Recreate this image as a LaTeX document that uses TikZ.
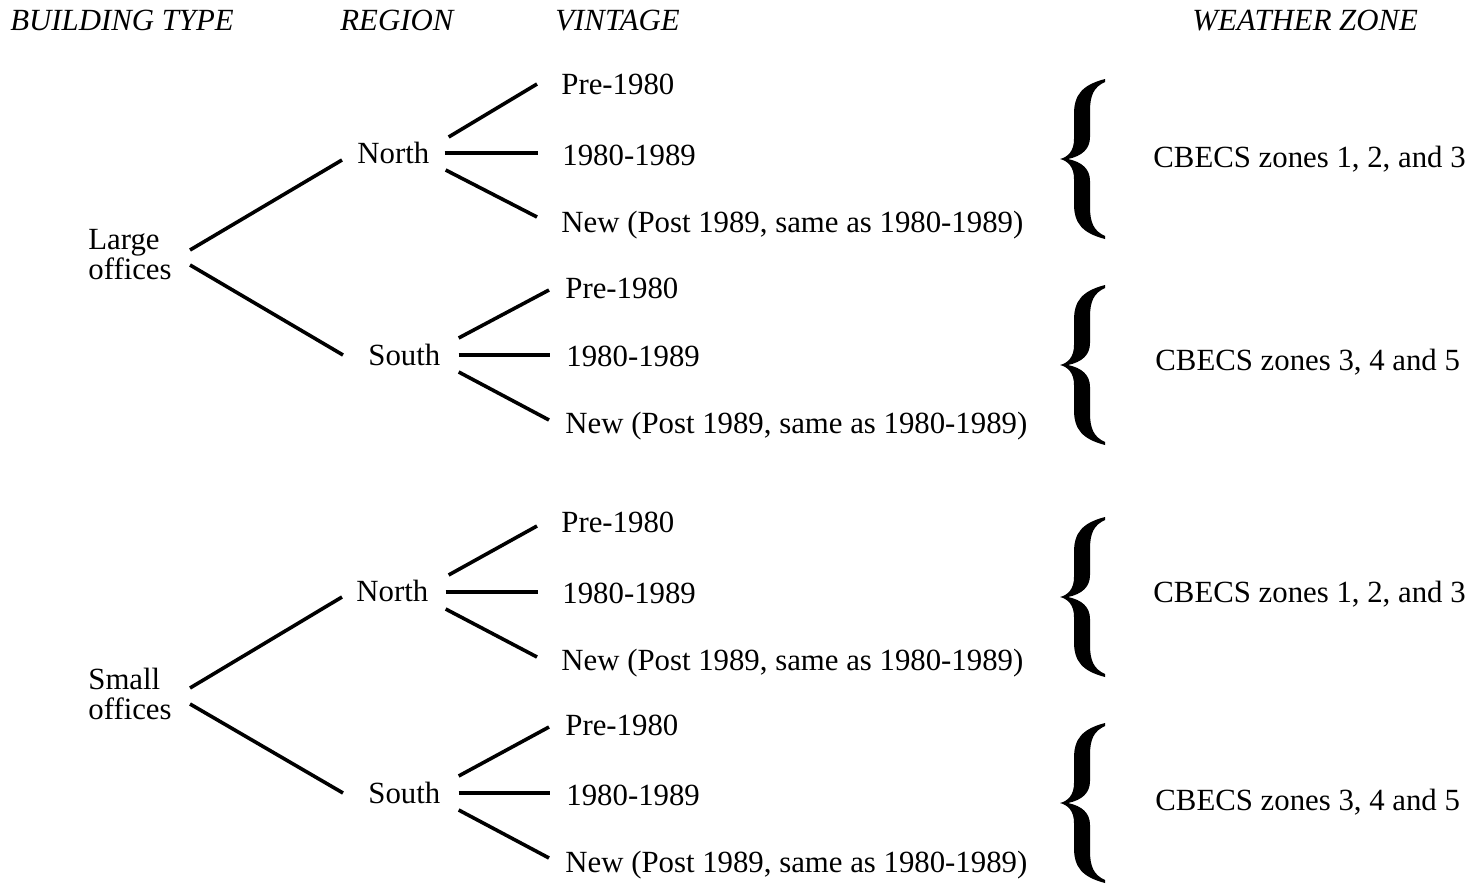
\documentclass[tikz,border=0pt]{standalone}
\usepackage{fontspec}
\setmainfont{Liberation Serif}
\usetikzlibrary{calc}
\tikzset{
  lbl/.style={anchor=base west,inner sep=0pt,font=\fontsize{15.4}{15}\selectfont},
  bt/.style={lbl,anchor=west,align=left},
  hdr/.style={lbl,font=\fontsize{15.4}{15}\selectfont\itshape},
  br/.style={draw=black,line width=1.8pt},
  % filled curly brace, 45 wide and 160 high, tip on the left
  pics/zbrace/.style={code={
    \fill[black] (45,0) .. controls (22,6) and (14,16) .. (14,35) -- (14,60)
      .. controls (14,72) and (8,78) .. (0,80)
      .. controls (8,82) and (14,88) .. (14,100) -- (14,125)
      .. controls (14,144) and (22,154) .. (45,160) -- (45,157)
      .. controls (34,152) and (30,144) .. (30,128) -- (30,102)
      .. controls (30,90) and (22,83) .. (8,80)
      .. controls (22,77) and (30,70) .. (30,58) -- (30,32)
      .. controls (30,16) and (34,8) .. (45,3) -- cycle;
  }},
}

\begin{document}
\begin{tikzpicture}[x=0.5pt,y=-0.5pt]
\useasboundingbox (0,0) rectangle (1477,884);

% headings
\node[hdr] (hb) at (10,30) {BUILDING TYPE};
\node[hdr] (hr) at (340,30) {REGION};
\node[hdr] (hv) at (555,30) {VINTAGE};
\node[hdr] (hw) at (1192,30) {WEATHER ZONE};

% large offices
\node[bt] (lg) at (88,255) {Large\\offices};
\node[lbl] (ln) at (357,163) {North};
\node[lbl] (ls) at (368,365) {South};
\draw[br] ($(lg.east)+(18,-5)$) -- ($(ln.base west)+(-15,-3)$);
\draw[br] ($(lg.east)+(18,10)$) -- ($(ls.base west)+(-25,-10)$);

\node[lbl] (ln1) at (561,94) {Pre-1980};
\node[lbl] (ln2) at (562,165) {1980-1989};
\node[lbl] (ln3) at (561,232) {New (Post 1989, same as 1980-1989)};
\draw[br] ($(ln.base east)+(19,-26)$) -- ($(ln1.base west)+(-24,-10)$);
\draw[br] ($(ln.base east)+(15,-10)$) -- ($(ln2.base west)+(-24,-12)$);
\draw[br] ($(ln.base east)+(16,7)$) -- ($(ln3.base west)+(-24,-15)$);
\pic (lnb) at (1060,79) {zbrace};
\node[lbl] (lnz) at (1153,167) {CBECS zones 1, 2, and 3};

\node[lbl] (ls1) at (565,298) {Pre-1980};
\node[lbl] (ls2) at (566,366) {1980-1989};
\node[lbl] (ls3) at (565,433) {New (Post 1989, same as 1980-1989)};
\draw[br] ($(ls.base east)+(18,-27)$) -- ($(ls1.base west)+(-16,-8)$);
\draw[br] ($(ls.base east)+(18,-10)$) -- ($(ls2.base west)+(-16,-11)$);
\draw[br] ($(ls.base east)+(18,7)$) -- ($(ls3.base west)+(-16,-13)$);
\pic (lsb) at (1060,285) {zbrace};
\node[lbl] (lsz) at (1155,370) {CBECS zones 3, 4 and 5};

% small offices
\node[bt] (sm) at (88,694) {Small\\offices};
\node[lbl] (sn) at (356,601) {North};
\node[lbl] (ss) at (368,803) {South};
\draw[br] ($(sm.east)+(18,-6)$) -- ($(sn.base west)+(-14,-4)$);
\draw[br] ($(sm.east)+(18,10)$) -- ($(ss.base west)+(-25,-10)$);

\node[lbl] (sn1) at (561,532) {Pre-1980};
\node[lbl] (sn2) at (562,603) {1980-1989};
\node[lbl] (sn3) at (561,670) {New (Post 1989, same as 1980-1989)};
\draw[br] ($(sn.base east)+(20,-26)$) -- ($(sn1.base west)+(-24,-6)$);
\draw[br] ($(sn.base east)+(17,-9)$) -- ($(sn2.base west)+(-24,-11)$);
\draw[br] ($(sn.base east)+(17,8)$) -- ($(sn3.base west)+(-24,-13)$);
\pic (snb) at (1060,517) {zbrace};
\node[lbl] (snz) at (1153,602) {CBECS zones 1, 2, and 3};

\node[lbl] (ss1) at (565,735) {Pre-1980};
\node[lbl] (ss2) at (566,805) {1980-1989};
\node[lbl] (ss3) at (565,872) {New (Post 1989, same as 1980-1989)};
\draw[br] ($(ss.base east)+(18,-27)$) -- ($(ss1.base west)+(-16,-8)$);
\draw[br] ($(ss.base east)+(18,-10)$) -- ($(ss2.base west)+(-16,-12)$);
\draw[br] ($(ss.base east)+(18,7)$) -- ($(ss3.base west)+(-16,-14)$);
\pic (ssb) at (1060,723) {zbrace};
\node[lbl] (ssz) at (1155,810) {CBECS zones 3, 4 and 5};
\end{tikzpicture}
\end{document}
